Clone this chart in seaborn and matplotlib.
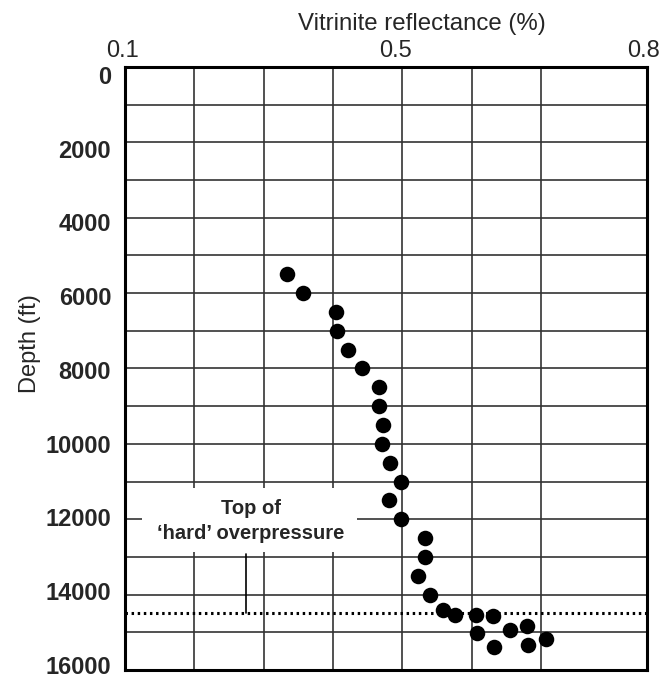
import matplotlib
matplotlib.use("Agg")
import matplotlib.pyplot as plt
import matplotlib.patches as mpatches
from matplotlib.transforms import ScaledTranslation
import seaborn as sns
import pandas as pd

# Vitrinite reflectance samples (%) against depth (ft)
reflectance = [0.333, 0.357, 0.405, 0.406, 0.421, 0.442, 0.466, 0.466,
               0.472, 0.471, 0.482, 0.498, 0.481, 0.498, 0.532, 0.532,
               0.522, 0.540, 0.559, 0.576, 0.606, 0.631, 0.608, 0.632,
               0.656, 0.680, 0.682, 0.707]
depth_ft = [5500, 6000, 6500, 7000, 7500, 8000, 8500, 9000,
            9500, 10000, 10500, 11000, 11500, 12000, 12500, 13000,
            13500, 14000, 14420, 14550, 14550, 14580, 15020, 15380,
            14950, 14830, 15330, 15180]

x_tick_values = [0.1, 0.5, 0.853]
x_tick_labels = ["0.1", "0.5", "0.8"]
x_grid_values = [0.2, 0.3, 0.4, 0.6, 0.7]
y_tick_values = list(range(0, 16001, 2000))
y_grid_values = list(range(1000, 16000, 2000))

overpressure_top_ft = 14500
note_text = "Top of\n\u2018hard\u2019 overpressure"

df = pd.DataFrame({"reflectance": reflectance, "depth": depth_ft})

sns.set_style("white")
plt.rcParams["font.family"] = ["Liberation Sans", "DejaVu Sans"]

fig = plt.figure(figsize=(6.65, 6.81), dpi=100)
ax = fig.add_axes([0.188, 0.0162, 0.785, 0.8855])

sns.scatterplot(data=df, x="reflectance", y="depth", ax=ax, s=125,
                color="black", edgecolor="black", linewidth=0, zorder=5,
                legend=False)

ax.set_xlim(0.1, 0.853)
ax.set_ylim(16000, 0)

ax.xaxis.tick_top()
ax.set_xticks(x_tick_values)
ax.set_xticklabels(x_tick_labels, fontsize=17)
ax.set_xticks(x_grid_values, minor=True)
ax.set_yticks(y_tick_values)
ax.set_yticklabels([str(v) for v in y_tick_values], fontsize=17,
                   fontweight="bold")
ax.set_yticks(y_grid_values, minor=True)
ax.tick_params(which="both", length=0)
ax.tick_params(axis="y", pad=10)
ax.tick_params(axis="x", pad=3.5)

# small hand-set nudges of the tick labels (pixels)
for lab, dx in zip(ax.get_xticklabels(), [-3, -7, -4]):
    lab.set_transform(lab.get_transform()
                      + ScaledTranslation(dx / 100, 0, fig.dpi_scale_trans))
for lab, v in zip(ax.get_yticklabels(), y_tick_values):
    dy = 8 - 13 * v / 16000
    lab.set_transform(lab.get_transform()
                      + ScaledTranslation(0, -dy / 100, fig.dpi_scale_trans))

ax.set_axisbelow(True)
ax.grid(True, which="both", color="#333333", linewidth=1.2)

for side in ax.spines.values():
    side.set_visible(True)
    side.set_color("black")
    side.set_linewidth(2.2)

ax.xaxis.set_label_position("top")
ax.set_xlabel("Vitrinite reflectance (%)", fontsize=17.3)
ax.xaxis.set_label_coords(0.569, 1.062)
ax.set_ylabel("Depth (ft)", fontsize=17)
ax.yaxis.set_label_coords(-0.16, 0.541)

# Dotted line marking the top of hard overpressure
ax.axhline(overpressure_top_ft, color="black", linewidth=2.2,
           linestyle=(0, (0.8, 1.2)), zorder=3)

# White label panel interrupting the grid
panel = mpatches.Rectangle((0.1245, 11170), 0.31, 1690, facecolor="white",
                           edgecolor="none", zorder=2)
ax.add_patch(panel)
ax.text(0.281, 12050, note_text, ha="center", va="center", fontsize=14.5,
        fontweight="bold", linespacing=1.4, zorder=4)
ax.plot([0.2746, 0.2746], [12920, overpressure_top_ft], color="black",
        linewidth=1.2, zorder=3)

fig.savefig("out.png", dpi=100)
